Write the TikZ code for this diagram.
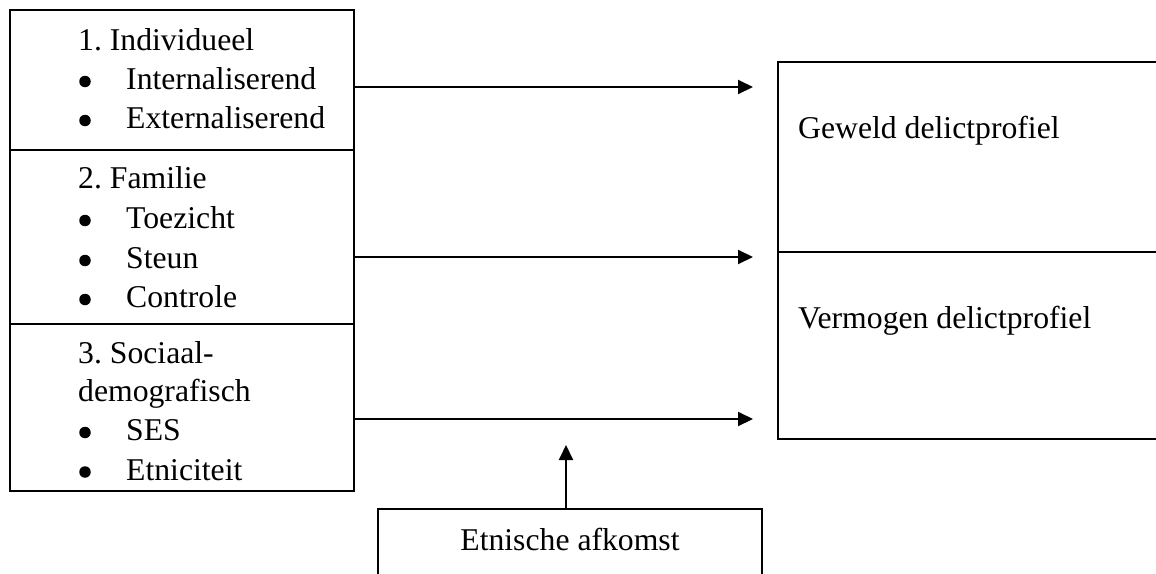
\documentclass[tikz,border=0pt]{standalone}
\usepackage{fontspec}
\setmainfont{Liberation Serif}
\usetikzlibrary{arrows.meta}
\begin{document}
\begin{tikzpicture}[x=1pt,y=-1pt,
  box/.style={draw=black, line width=1.6pt, rectangle, inner sep=0pt, outer sep=0pt, anchor=north west},
  txt/.style={inner sep=0pt, anchor=base west, font=\fontsize{31.7}{38}\selectfont\frenchspacing},
  ctxt/.style={inner sep=0pt, anchor=base, font=\fontsize{31.7}{38}\selectfont\frenchspacing},
  bul/.style={circle, fill=black, inner sep=0pt, minimum size=11.5pt},
  arr/.style={line width=2pt, -{Triangle[length=15pt,width=14pt]}}]
\useasboundingbox (0,0) rectangle (1156,573);
\clip (0,0) rectangle (1156,573);
% left boxes
\node[box, minimum width=344pt, minimum height=140pt] (s1) at (10,10) {};
\node[box, minimum width=344pt, minimum height=174pt] (s2) at (10,150) {};
\node[box, minimum width=344pt, minimum height=167pt] (s3) at (10,324) {};
% right boxes
\node[box, minimum width=420pt, minimum height=190pt] (gew) at (778,62) {};
\node[box, minimum width=420pt, minimum height=187pt] (ver) at (778,252) {};
\draw[line width=2.6pt] (gew.south west) -- (gew.south east);
% bottom box
\node[box, minimum width=384pt, minimum height=100pt] (etn) at (378,509) {};
% texts left
\node[txt] (h1) at (78,50) {1. Individueel};
\node[bul] (b11) at (85,81.5) {};
\node[txt] (i11) at (126,89) {Internaliserend};
\node[bul] (b12) at (85,120.5) {};
\node[txt] (i12) at (126,128) {Externaliserend};
\node[txt] (h2) at (78,188) {2. Familie};
\node[bul] (b21) at (85,220.5) {};
\node[txt] (i21) at (126,228) {Toezicht};
\node[bul] (b22) at (85,260.5) {};
\node[txt] (i22) at (126,268) {Steun};
\node[bul] (b23) at (85,299.5) {};
\node[txt] (i23) at (126,307) {Controle};
\node[txt] (h3a) at (78,363) {3. Sociaal-};
\node[txt] (h3b) at (78,401) {demografisch};
\node[bul] (b31) at (85,432.5) {};
\node[txt] (i31) at (126,440) {SES};
\node[bul] (b32) at (85,472) {};
\node[txt] (i32) at (126,480) {Etniciteit};
% texts right
\node[txt] (tg) at (798,138) {Geweld delictprofiel};
\node[txt] (tv) at (798,328) {Vermogen delictprofiel};
\node[ctxt] (te) at (570,550) {Etnische afkomst};
% arrows
\coordinate (t1) at (753,87);
\coordinate (t2) at (753,257);
\coordinate (t3) at (753,419);
\coordinate (t4) at (566,445);
\draw[arr] (s1.east |- t1) -- (t1);
\draw[arr] (s2.east |- t2) -- (t2);
\draw[arr] (s3.east |- t3) -- (t3);
\draw[arr] (etn.north -| t4) -- (t4);
\end{tikzpicture}
\end{document}
